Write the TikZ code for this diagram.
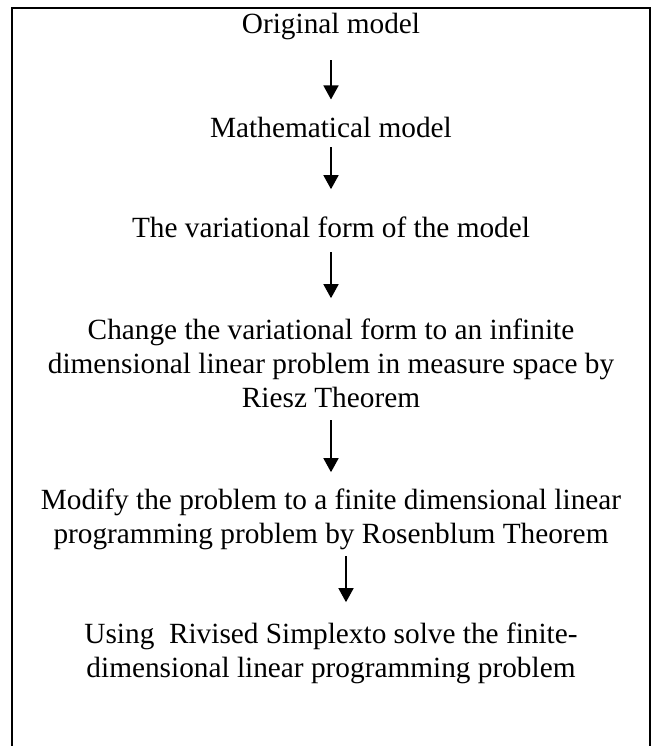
\documentclass[tikz,border=0pt]{standalone}
\usepackage{fontspec}
\setmainfont{Liberation Serif}
\usetikzlibrary{arrows.meta}

\begin{document}
\begin{tikzpicture}[x=1pt, y=1pt,
    stage/.style={align=center, inner sep=0pt, anchor=base, font=\fontsize{29.3}{34}\selectfont},
    flow/.style={-{Triangle[width=15pt,length=14pt]}, line width=1.6pt}]
        \useasboundingbox (0,0) rectangle (657,-746);
        % Frame, open at the bottom
        \draw[line width=2pt] (12,-746) -- (12,-8) -- (650,-8) -- (650,-746);
        % Stages (base = last line)
        \node[stage] (orig) at (331,-34) {Original model};
        \node[stage] (math) at (331,-138) {Mathematical model};
        \node[stage] (var) at (331,-237) {The variational form of the model};
        \node[stage] (riesz) at (331,-407) {Change the variational form to an infinite\\dimensional linear problem in measure space by\\Riesz Theorem};
        \node[stage] (rosen) at (331,-543) {Modify the problem to a finite dimensional linear\\programming problem by Rosenblum Theorem};
        \node[stage] (simplex) at (331,-677) {Using\ \ Rivised Simplexto solve the finite-\\dimensional linear programming problem};
        % Connections
        \draw[flow, shorten <=19.6pt, shorten >=18pt] (orig) -- (math);
        \draw[flow, shorten <=9pt, shorten >=27pt] (math) -- (var);
        \draw[flow, shorten <=15pt, shorten >=20pt] (var) -- (riesz);
        \draw[flow, shorten <=13pt, shorten >=16pt] (riesz) -- (rosen);
        \draw[flow, shorten <=6.6pt, shorten >=20pt] ([xshift=15pt]rosen.south) -- ([xshift=15pt]simplex.north);
    \end{tikzpicture}
\end{document}
